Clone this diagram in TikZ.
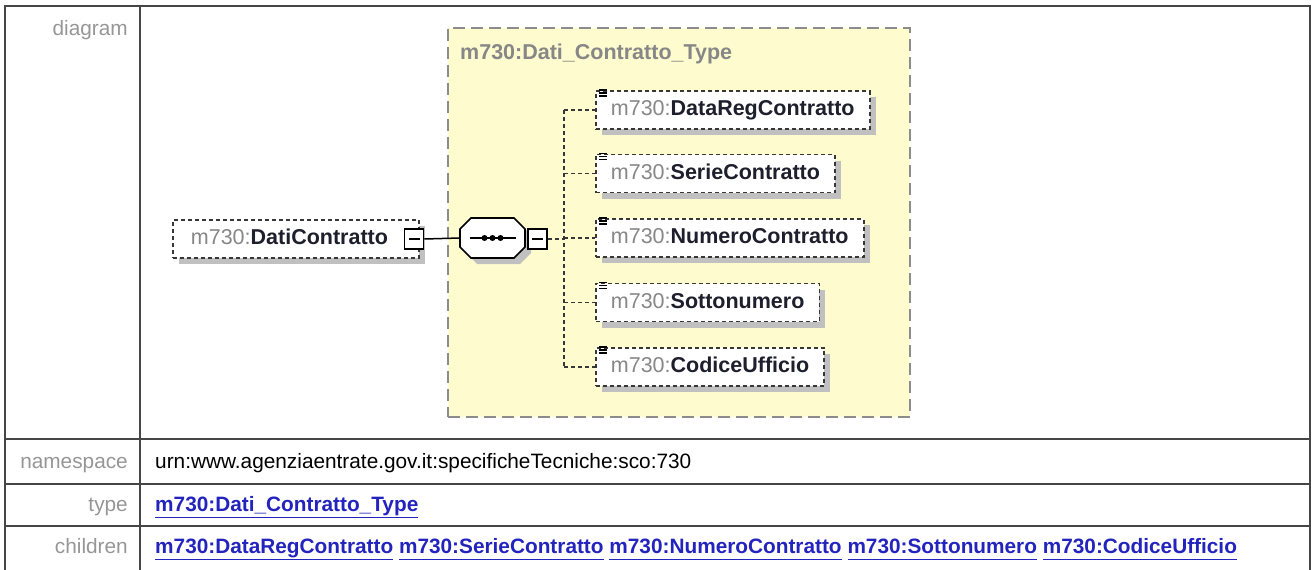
\documentclass[tikz,border=0pt]{standalone}
\usepackage{fontspec}
\setmainfont{Liberation Sans}
\usetikzlibrary{shadows}
\definecolor{ybg}{RGB}{254,252,206}
\definecolor{ybord}{RGB}{140,140,140}
\definecolor{pref}{RGB}{135,135,135}
\definecolor{nm}{RGB}{30,30,45}
\definecolor{lbl}{RGB}{150,150,150}
\definecolor{lnk}{RGB}{35,35,190}
\definecolor{tline}{RGB}{70,70,70}
\definecolor{shd}{RGB}{192,192,192}
\definecolor{dgray}{RGB}{55,55,55}
\newcommand\qn[1]{{\color{pref}m730:}{\bfseries #1}}
\newcommand\lnkw[1]{\underline{#1\vphantom{gy}}}
\tikzset{
  tbl/.style={draw=tline, line width=1.5pt},
  tfont/.style={font=\fontsize{20.8}{24}\selectfont},
  lblnode/.style={tfont, text=lbl, anchor=base east, inner sep=0pt},
  valnode/.style={tfont, anchor=base west, inner sep=0pt},
  elbox/.style={draw=dgray, line width=1.8pt, dash pattern=on 4pt off 3pt, fill=white,
    minimum height=38pt, inner xsep=15pt, inner ysep=0pt, text height=15.5pt, text depth=4.5pt,
    font=\fontsize{21.5}{24}\selectfont, text=nm,
    general shadow={fill=shd, shadow xshift=6pt, shadow yshift=-6pt}, anchor=west},
  minusbox/.style={draw=black, fill=white, line width=1.6pt, minimum width=19pt, minimum height=20pt, inner sep=0pt,
    path picture={\draw[line width=1.4pt] ([xshift=4pt]path picture bounding box.west) -- ([xshift=-4pt]path picture bounding box.east);}},
  seqframe/.style={minimum width=65pt, minimum height=40pt, inner sep=0pt},
  conn/.style={draw=dgray, line width=1.6pt, dash pattern=on 4pt off 3pt},
  solidc/.style={draw=black, line width=1.5pt},
}
\begin{document}
\begin{tikzpicture}[x=1pt,y=-1pt]
\useasboundingbox (0,0) rectangle (1312,570);
% table frame
\draw[tbl, line width=2pt] (5,585) -- (5,6) -- (1310,6) -- (1310,585);
\draw[tbl] (140,6) -- (140,585);
\draw[tbl] (5,439) -- (1310,439);
\draw[tbl] (5,484) -- (1310,484);
\draw[tbl] (5,526) -- (1310,526);
% labels
\node[lblnode] (ldiag) at (128,35) {diagram};
\node[lblnode] (lns) at (128,468) {namespace};
\node[lblnode] (ltype) at (128,511) {type};
\node[lblnode] (lch) at (128,553) {children};
\node[valnode] (vns) at (155,468) {urn:www.agenziaentrate.gov.it:specificheTecniche:sco:730};
\node[valnode, text=lnk, font=\fontsize{20.8}{24}\selectfont\bfseries] (vtype) at (155,511) {\lnkw{m730:Dati\_Contratto\_Type}};
\node[valnode, text=lnk, font=\fontsize{20.8}{24}\selectfont\bfseries] (vch) at (155,553) {\lnkw{m730:DataRegContratto} \lnkw{m730:SerieContratto} \lnkw{m730:NumeroContratto} \lnkw{m730:Sottonumero} \lnkw{m730:CodiceUfficio}};
% type box
\node[draw=ybord, fill=ybg, dash pattern=on 12pt off 6pt, line width=1.6pt, minimum width=462pt, minimum height=389pt, anchor=north west, inner sep=0pt] (tbox) at (447,27) {};
\node[anchor=base west, inner sep=0pt, text=pref, font=\fontsize{21.5}{24}\selectfont\bfseries] (tlab) at (460,59) {m730:Dati\_Contratto\_Type};
% element
\node[elbox, inner xsep=18pt, text width=210pt, align=left] (el) at (172,239) {\qn{DatiContratto}};
\node[minusbox] (elm) at (414,239) {};
% sequence
\node[seqframe] (seq) at (492.5,238) {};
\fill[shd, shift={(seq.center)}, shift={(6,6)}] (-21.5,-20) -- (21.5,-20) -- (32.5,-9) -- (32.5,9) -- (21.5,20) -- (-21.5,20) -- (-32.5,9) -- (-32.5,-9) -- cycle;
\draw[line width=1.6pt, fill=white, shift={(seq.center)}] (-21.5,-20) -- (21.5,-20) -- (32.5,-9) -- (32.5,9) -- (21.5,20) -- (-21.5,20) -- (-32.5,9) -- (-32.5,-9) -- cycle;
\draw[line width=1.4pt, shift={(seq.center)}] (-23,0) -- (23,0);
\foreach \dx in {-8,0,8} \fill[shift={(seq.center)}] (\dx,0) circle (3);
\node[minusbox] (sqm) at (537.5,239) {};
\coordinate (tr) at (564,239);
% children
\node[elbox] (c1) at (595,110) {\qn{DataRegContratto}};
\node[elbox] (c2) at (595,173.5) {\qn{SerieContratto}};
\node[elbox] (c3) at (595,238) {\qn{NumeroContratto}};
\node[elbox] (c4) at (595,302.5) {\qn{Sottonumero}};
\node[elbox] (c5) at (595,367) {\qn{CodiceUfficio}};
\foreach \c in {c1,c2,c3,c4,c5} {
  \foreach \d in {0,3,6} \draw[line width=1.3pt] ([shift={(4,\d)}]\c.north west) -- ++(8,0);
}
% connectors
\draw[solidc] (elm.east) -- (seq.west);
\draw[conn] (sqm.east) -- (tr);
\draw[conn] (tr |- c1.west) -- (tr |- c5.west);
\foreach \c in {c1,c2,c3,c4,c5} \draw[conn] (tr |- \c.west) -- (\c.west);
\end{tikzpicture}
\end{document}
